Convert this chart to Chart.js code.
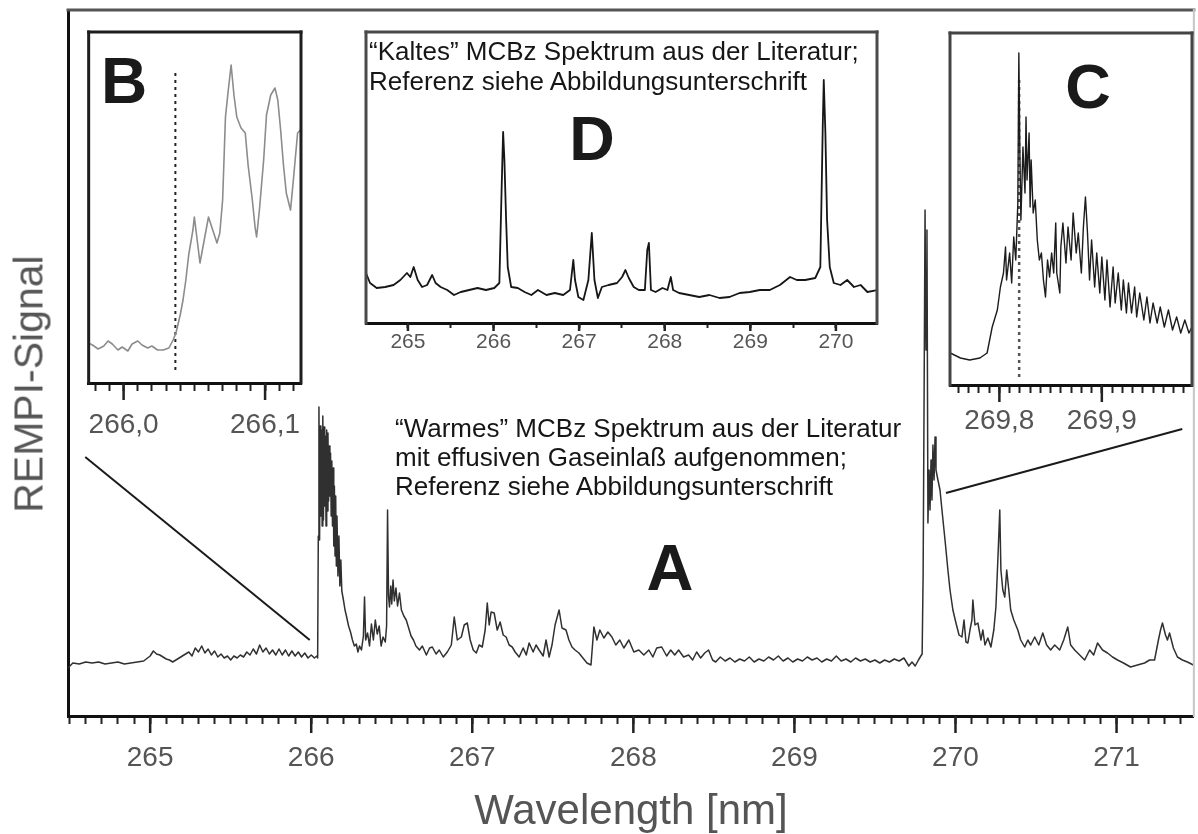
<!DOCTYPE html>
<html lang="de">
<head>
<meta charset="utf-8">
<title>REMPI-Spektrum MCBz</title>
<script src="https://cdn.jsdelivr.net/npm/chart.js@4.4.1/dist/chart.umd.min.js"></script>
<style>
  html, body { margin: 0; padding: 0; background: #fff; }
  #stage { position: relative; width: 1198px; height: 834px; overflow: hidden;
           font-family: "Liberation Sans", Arial, Helvetica, sans-serif; }
  #stage canvas { position: absolute; }
  .note { position: absolute; font-size: 26px; line-height: 29px; color: #161616; white-space: nowrap; }
  .tag  { position: absolute; font-weight: bold; line-height: 1; color: #1a1a1a; text-align: center; width: 100px; }
  #ytitle { position: absolute; left: 29px; top: 384px; font-size: 41px; line-height: 1; color: #555;
            white-space: nowrap; transform: translate(-50%, -50%) rotate(-90deg); }
</style>
</head>
<body>
<div id="stage">
  <canvas id="chartA" width="1198" height="834" style="left:0;top:0"></canvas>
  <canvas id="chartD" width="530" height="340" style="left:356px;top:27px"></canvas>
  <canvas id="chartB" width="235" height="420" style="left:78px;top:27px"></canvas>
  <canvas id="chartC" width="258" height="420" style="left:940px;top:28px"></canvas>

  <div id="ytitle">REMPI-Signal</div>

  <div class="tag" style="left:74px;top:49px;font-size:64px">B</div>
  <div class="tag" style="left:1038px;top:55px;font-size:63px">C</div>
  <div class="tag" style="left:542px;top:107px;font-size:63px">D</div>
  <div class="tag" style="left:620px;top:535px;font-size:65px">A</div>

  <div class="note" style="left:369px;top:36px;line-height:30px">“Kaltes” MCBz Spektrum aus der Literatur;<br>Referenz siehe Abbildungsunterschrift</div>
  <div class="note" style="left:395px;top:414px">“Warmes” MCBz Spektrum aus der Literatur<br>mit effusiven Gaseinlaß aufgenommen;<br>Referenz siehe Abbildungsunterschrift</div>
</div>

<script>
'use strict';

/* ──────────────────────────────────────────
   Data  (wavelength nm, REMPI signal a.u.)
   ────────────────────────────────────────── */

// A: "warm" spectrum, effusive inlet
const spectrumA = [
  [264.49,48],[264.52,53],[264.56,52],[264.60,54],[264.64,53],[264.68,54],[264.72,52],[264.76,53],
  [264.80,54],[264.84,52],[264.88,53],[264.92,54],[264.96,55],[265.00,60],[265.02,65],[265.04,62],
  [265.06,61],[265.08,59],[265.10,57],[265.12,56],[265.14,54],[265.16,56],[265.18,58],[265.20,60],
  [265.22,62],[265.24,64],[265.26,60],[265.28,68],[265.30,64],[265.32,70],[265.34,63],[265.36,67],
  [265.38,61],[265.40,65],[265.42,59],[265.44,62],[265.46,58],[265.48,60],[265.50,56],[265.52,60],
  [265.54,58],[265.56,61],[265.58,59],[265.60,64],[265.62,61],[265.64,67],[265.66,62],[265.68,71],
  [265.70,64],[265.72,68],[265.74,62],[265.76,66],[265.78,61],[265.80,67],[265.82,61],[265.84,66],
  [265.86,60],[265.88,65],[265.90,60],[265.92,64],[265.94,59],[265.96,63],[265.98,58],[266.00,61],
  [266.02,58],[266.035,60],
  [266.040,58],[266.044,180],[266.048,309],[266.052,176],[266.056,290],[266.060,200],[266.064,286],
  [266.068,190],[266.072,300],[266.076,196],[266.080,289],[266.084,210],[266.088,280],[266.092,190],
  [266.096,286],[266.100,205],[266.104,283],[266.108,215],[266.112,270],[266.116,220],[266.120,263],
  [266.124,200],[266.128,255],[266.132,190],[266.136,248],[266.140,170],[266.144,230],[266.148,160],
  [266.152,220],[266.156,150],[266.160,200],[266.166,140],[266.172,180],[266.178,130],[266.184,156],
  [266.190,125],[266.200,116],[266.210,106],[266.220,99],[266.232,90],[266.244,84],[266.256,76],
  [266.268,70],[266.280,72],[266.290,64],[266.300,70],[266.312,66],[266.324,80],[266.331,119],
  [266.338,76],[266.350,83],[266.362,70],[266.374,92],[266.386,76],[266.398,96],[266.410,82],
  [266.422,90],[266.434,70],[266.446,79],[266.460,74],[266.468,90],[266.474,206],[266.480,120],
  [266.486,109],[266.494,130],[266.500,112],[266.508,136],[266.516,115],[266.526,128],[266.536,110],
  [266.548,123],[266.560,106],[266.575,100],[266.590,96],[266.605,88],[266.620,80],[266.635,76],
  [266.650,70],[266.672,66],[266.690,70],[266.715,61],[266.735,68],[266.752,69],[266.775,62],
  [266.795,66],[266.820,59],[266.845,64],[266.870,71],[266.888,99],[266.907,76],[266.932,79],
  [266.950,91],[266.969,93],[266.987,76],[267.006,66],[267.025,63],[267.043,71],[267.062,69],
  [267.080,86],[267.093,113],[267.105,91],[267.117,104],[267.136,103],[267.155,86],[267.173,94],
  [267.192,81],[267.210,79],[267.229,71],[267.248,69],[267.266,64],[267.291,59],[267.316,68],
  [267.335,61],[267.353,73],[267.378,64],[267.396,71],[267.415,66],[267.440,60],[267.458,76],
  [267.477,59],[267.495,71],[267.514,91],[267.539,106],[267.557,88],[267.582,86],[267.600,76],
  [267.619,69],[267.638,66],[267.662,63],[267.687,58],[267.712,53],[267.737,51],[267.755,89],
  [267.774,76],[267.792,86],[267.817,78],[267.842,84],[267.867,79],[267.891,71],[267.916,76],
  [267.941,68],[267.972,76],[268.003,64],[268.034,66],[268.065,61],[268.096,66],[268.121,59],
  [268.145,68],[268.176,69],[268.207,60],[268.232,66],[268.257,61],[268.281,66],[268.312,59],
  [268.343,61],[268.368,56],[268.393,64],[268.418,58],[268.443,63],[268.467,66],[268.492,56],
  [268.511,54],
  [268.54,59],[268.57,55],[268.60,58],[268.63,54],[268.66,57],[268.69,55],[268.72,59],[268.75,54],
  [268.78,57],[268.81,55],[268.84,59],[268.87,56],[268.90,60],[268.93,55],[268.96,58],[268.99,54],
  [269.02,57],[269.05,55],[269.08,59],[269.11,56],[269.14,58],[269.17,54],[269.20,57],[269.23,55],
  [269.26,60],[269.29,55],[269.32,57],[269.35,54],[269.38,58],[269.41,55],[269.44,57],[269.47,54],
  [269.50,56],[269.53,53],[269.56,56],[269.59,54],[269.62,57],[269.65,55],[269.68,58],[269.71,50],
  [269.73,54],[269.75,50],[269.77,56],[269.785,60],[269.793,62],
  [269.799,140],[269.805,316],[269.811,506],[269.817,366],[269.823,486],[269.829,193],[269.836,246],
  [269.842,206],[269.848,256],[269.854,216],[269.860,271],[269.867,236],[269.873,279],[269.879,246],
  [269.891,236],[269.904,226],[269.916,206],[269.935,176],[269.953,146],[269.966,126],[269.984,106],
  [270.003,93],[270.022,81],[270.040,79],[270.053,96],[270.065,74],[270.077,73],[270.090,86],
  [270.102,96],[270.108,116],[270.121,91],[270.139,93],[270.158,76],[270.170,86],[270.183,71],
  [270.201,78],[270.220,69],[270.238,86],[270.251,109],[270.263,156],[270.275,206],[270.282,146],
  [270.294,126],[270.306,119],[270.318,146],[270.331,126],[270.343,106],[270.362,96],[270.387,86],
  [270.405,76],[270.430,69],[270.449,76],[270.467,71],[270.492,79],[270.517,71],[270.542,83],
  [270.566,71],[270.591,66],[270.616,71],[270.647,66],[270.672,76],[270.697,89],[270.715,71],
  [270.740,66],[270.771,61],[270.802,56],[270.833,66],[270.858,61],[270.882,73],[270.913,66],
  [270.944,63],[270.975,59],[271.006,56],[271.043,53],[271.087,49],[271.130,51],[271.174,53],
  [271.205,56],[271.236,56],[271.260,76],[271.273,86],[271.285,93],[271.304,81],[271.316,76],
  [271.329,83],[271.353,68],[271.378,59],[271.409,56],[271.440,54],[271.477,51]
];

// B: zoom on the 266.04 nm band head
const spectrumB = [
  [265.975,40],[265.978,38],[265.982,34],[265.986,37],[265.989,42],[265.992,39],[265.996,33],
  [265.999,36],[266.003,32],[266.006,39],[266.010,42],[266.013,38],[266.017,35],[266.020,37],
  [266.024,33],[266.028,33],[266.032,35],[266.035,43],[266.037,50],[266.040,68],[266.042,83],
  [266.044,103],[266.046,128],[266.049,153],[266.050,166],[266.052,143],[266.054,120],[266.057,143],
  [266.060,166],[266.063,153],[266.066,140],[266.068,150],[266.070,183],[266.072,266],[266.074,293],
  [266.076,318],[266.078,288],[266.080,266],[266.083,255],[266.086,250],[266.088,218],[266.091,183],
  [266.093,155],[266.094,146],[266.096,173],[266.099,223],[266.101,268],[266.104,288],[266.107,295],
  [266.109,283],[266.111,253],[266.113,218],[266.115,190],[266.118,173],[266.120,203],[266.123,250],
  [266.125,253]
];

// C: zoom on the 269.8 nm band head
const spectrumC = [
  [269.752,32],[269.762,27],[269.771,25],[269.781,27],[269.788,32],[269.793,58],[269.798,75],
  [269.801,98],[269.804,112],[269.806,138],[269.807,105],[269.810,132],[269.812,102],[269.814,148],
  [269.816,125],[269.818,182],[269.819,332],[269.820,232],[269.821,165],[269.823,238],[269.825,192],
  [269.826,268],[269.827,205],[269.829,252],[269.830,178],[269.831,225],[269.833,172],[269.835,185],
  [269.837,145],[269.839,125],[269.841,132],[269.843,105],[269.845,88],[269.847,125],[269.849,108],
  [269.851,132],[269.853,112],[269.855,162],[269.856,112],[269.859,92],[269.860,138],[269.862,162],
  [269.865,122],[269.867,158],[269.870,125],[269.872,172],[269.875,132],[269.877,152],[269.880,112],
  [269.882,158],[269.884,188],[269.886,152],[269.888,105],[269.890,145],[269.893,98],[269.895,132],
  [269.898,92],[269.900,128],[269.903,85],[269.905,125],[269.908,78],[269.911,118],[269.913,82],
  [269.916,112],[269.919,75],[269.921,105],[269.924,72],[269.926,102],[269.929,72],[269.932,98],
  [269.934,68],[269.937,92],[269.941,65],[269.944,88],[269.947,62],[269.950,82],[269.954,62],
  [269.957,78],[269.961,58],[269.965,75],[269.969,55],[269.973,68],[269.977,52],[269.981,65],
  [269.985,52],[269.988,58]
];

// D: "cold" spectrum from the literature
const spectrumD = [
  [264.51,50],[264.557,40],[264.635,35],[264.734,36],[264.832,38],[264.911,43],[264.988,50],
  [265.028,46],[265.067,56],[265.114,43],[265.165,36],[265.224,38],[265.283,48],[265.323,40],
  [265.382,36],[265.459,33],[265.538,28],[265.617,31],[265.715,33],[265.813,35],[265.911,33],
  [266.009,35],[266.068,40],[266.095,136],[266.112,191],[266.127,163],[266.147,103],[266.166,56],
  [266.206,36],[266.284,35],[266.363,31],[266.442,28],[266.519,33],[266.618,28],[266.716,30],
  [266.814,28],[266.893,33],[266.932,63],[266.952,43],[266.991,26],[267.050,23],[267.108,43],
  [267.148,90],[267.179,43],[267.219,25],[267.266,36],[267.344,38],[267.443,40],[267.502,46],
  [267.541,53],[267.580,45],[267.638,36],[267.697,33],[267.768,33],[267.796,73],[267.815,80],
  [267.839,33],[267.894,31],[267.973,35],[268.032,33],[268.071,46],[268.098,33],[268.168,30],
  [268.286,28],[268.404,26],[268.522,28],[268.640,25],[268.757,26],[268.875,30],[268.993,31],
  [269.111,33],[269.228,33],[269.346,38],[269.464,46],[269.543,43],[269.641,43],[269.759,45],
  [269.818,56],[269.846,196],[269.858,243],[269.877,190],[269.897,103],[269.928,56],[269.975,40],
  [270.053,38],[270.132,43],[270.211,36],[270.289,38],[270.368,31],[270.486,33]
];

// dotted onset markers in B and C  [wavelength, from, to]
const onsetB = [266.0366, 13, 311];
const onsetC = [269.8193, 8, 308];

// connector lines from A to the insets  [[x1,y1],[x2,y2]] in A's data units
const connectorB = [[265.991, 76], [264.597, 259]];
const connectorC = [[269.941, 223], [271.408, 287]];

// axis windows  [min, max, minor step, major step]
const axisA = [264.49, 271.48, 0.1, 1];
const axisB = [265.9753, 266.1254, 0.01, 0.1];
const axisC = [269.7518, 269.988, 0.01, 0.1];
const axisD = [264.51, 270.48, 0.5, 1];

/* ──────────────────────────────────────────
   Helpers
   ────────────────────────────────────────── */
const FONT = '"Liberation Sans", Arial, Helvetica, sans-serif';
const pts = arr => arr.map(p => ({ x: p[0], y: p[1] }));
const isMult = (v, m) => { const r = v / m; return Math.abs(r - Math.round(r)) < 1e-6; };

function tickGrid(min, max, step) {
  const out = [];
  for (let k = Math.ceil(min / step - 1e-9); k * step <= max + 1e-9; k++) {
    out.push({ value: +(k * step).toFixed(4) });
  }
  return out;
}

/* frame around the plot area + white backdrop */
const framePlugin = {
  id: 'frame',
  beforeDraw(chart, args, o) {
    const { ctx, chartArea: a } = chart;
    if (!o.fill) return;
    ctx.save();
    ctx.fillStyle = o.fill;
    ctx.fillRect(a.left, a.top, a.right - a.left, a.bottom - a.top);
    ctx.restore();
  },
  afterDraw(chart, args, o) {
    const { ctx, chartArea: a } = chart;
    const seg = (s, x1, y1, x2, y2) => {
      if (!s) return;
      ctx.strokeStyle = s[0]; ctx.lineWidth = s[1];
      ctx.beginPath(); ctx.moveTo(x1, y1); ctx.lineTo(x2, y2); ctx.stroke();
    };
    ctx.save();
    ctx.lineCap = 'square';
    seg(o.top, a.left, a.top, a.right, a.top);
    seg(o.left, a.left, a.top, a.left, a.bottom);
    seg(o.right, a.right, a.top, a.right, a.bottom);
    ctx.restore();
  }
};

/* longer tick marks for the labelled (major) ticks */
const majorTickPlugin = {
  id: 'majorTicks',
  afterDraw(chart, args, o) {
    const s = chart.scales.x, ctx = chart.ctx;
    ctx.save();
    ctx.strokeStyle = o.color; ctx.lineWidth = o.width;
    s.ticks.forEach(t => {
      if (!isMult(t.value, o.every)) return;
      const px = s.getPixelForValue(t.value);
      ctx.beginPath(); ctx.moveTo(px, s.top); ctx.lineTo(px, s.top + o.length); ctx.stroke();
    });
    ctx.restore();
  }
};

function xAxis(win, opt) {
  const [min, max, step, major] = win;
  return {
    type: 'linear', position: 'bottom', min, max, bounds: 'data',
    afterBuildTicks: s => { s.ticks = tickGrid(min, max, step); },
    afterFit: s => { s.height = opt.height; },
    ticks: {
      autoSkip: false, maxRotation: 0, minRotation: 0,
      padding: opt.pad, color: '#555',
      font: { family: FONT, size: opt.font },
      callback: v => isMult(v, major) ? opt.fmt(v) : ''
    },
    grid: { display: true, drawOnChartArea: false, drawTicks: true,
            tickLength: opt.minor, tickWidth: 2, tickColor: '#222' },
    border: { display: true, color: '#111', width: 3 }
  };
}

function baseOptions(padding) {
  return {
    responsive: false, animation: false, devicePixelRatio: 1, events: [],
    layout: { padding },
    elements: { point: { radius: 0 }, line: { tension: 0, borderJoinStyle: 'round' } },
    plugins: { legend: { display: false }, tooltip: { enabled: false } }
  };
}

const fmtInt = v => String(Math.round(v));
const fmtComma = v => v.toFixed(1).replace('.', ',');

/* ──────────────────────────────────────────
   Main spectrum A
   ────────────────────────────────────────── */
const optA = baseOptions({ left: 0, right: 2, top: 10, bottom: 0 });
optA.scales = {
  x: Object.assign(xAxis(axisA, { height: 118, pad: 17, font: 28, minor: 8, fmt: fmtInt }), {
    title: { display: true, text: 'Wavelength [nm]', color: '#555',
             font: { family: FONT, size: 42, lineHeight: 1 }, padding: { top: 0, bottom: 1 } }
  }),
  y: { min: 0, max: 706, display: true,
       ticks: { display: false },
       grid: { display: false, drawTicks: false },
       border: { display: true, color: '#111', width: 3 },
       afterFit: s => { s.width = 68; } }
};
optA.plugins.frame = { top: ['#555', 3], right: ['#c6c6c6', 2] };
optA.plugins.majorTicks = { every: 1, length: 17, width: 2.5, color: '#222' };

new Chart(document.getElementById('chartA'), {
  type: 'line',
  data: { datasets: [
    { data: pts(spectrumA), borderColor: '#303030', borderWidth: 1.5 },
    { data: pts(connectorB), borderColor: '#1a1a1a', borderWidth: 2 },
    { data: pts(connectorC), borderColor: '#1a1a1a', borderWidth: 2 }
  ] },
  options: optA,
  plugins: [framePlugin, majorTickPlugin]
});

/* ──────────────────────────────────────────
   Inset B
   ────────────────────────────────────────── */
const optB = baseOptions({ left: 10, right: 12, top: 5, bottom: 0 });
optB.scales = {
  x: xAxis(axisB, { height: 64, pad: 17, font: 28, minor: 8, fmt: fmtComma }),
  y: { min: 0, max: 351, display: false }
};
optB.plugins.frame = { fill: '#fff', top: ['#1e1e1e', 3], left: ['#1e1e1e', 3], right: ['#1e1e1e', 3] };
optB.plugins.majorTicks = { every: 0.1, length: 17, width: 2.5, color: '#222' };

new Chart(document.getElementById('chartB'), {
  type: 'line',
  data: { datasets: [
    { data: pts(spectrumB), borderColor: '#8c8c8c', borderWidth: 1.6 },
    { data: [{ x: onsetB[0], y: onsetB[1] }, { x: onsetB[0], y: onsetB[2] }],
      borderColor: '#222', borderWidth: 2, borderDash: [3, 4] }
  ] },
  options: optB,
  plugins: [framePlugin, majorTickPlugin]
});

/* ──────────────────────────────────────────
   Inset C
   ────────────────────────────────────────── */
const optC = baseOptions({ left: 10, right: 6, top: 5, bottom: 0 });
optC.scales = {
  x: xAxis(axisC, { height: 63, pad: 11, font: 28, minor: 8, fmt: fmtComma }),
  y: { min: 0, max: 352, display: false }
};
optC.plugins.frame = { fill: '#fff', top: ['#444', 3], left: ['#444', 3], right: ['#444', 3] };
optC.plugins.majorTicks = { every: 0.1, length: 17, width: 2.5, color: '#222' };

new Chart(document.getElementById('chartC'), {
  type: 'line',
  data: { datasets: [
    { data: pts(spectrumC), borderColor: '#1c1c1c', borderWidth: 1.4 },
    { data: [{ x: onsetC[0], y: onsetC[1] }, { x: onsetC[0], y: onsetC[2] }],
      borderColor: '#555', borderWidth: 2.5, borderDash: [3, 4] }
  ] },
  options: optC,
  plugins: [framePlugin, majorTickPlugin]
});

/* ──────────────────────────────────────────
   Inset D
   ────────────────────────────────────────── */
const optD = baseOptions({ left: 10, right: 9, top: 5, bottom: 0 });
optD.scales = {
  x: xAxis(axisD, { height: 44, pad: 2, font: 21, minor: 5, fmt: fmtInt }),
  y: { min: 0, max: 291, display: false }
};
optD.plugins.frame = { fill: '#fff', top: ['#4a4a4a', 3], left: ['#4a4a4a', 3], right: ['#4a4a4a', 3] };
optD.plugins.majorTicks = { every: 1, length: 8, width: 2.5, color: '#222' };

new Chart(document.getElementById('chartD'), {
  type: 'line',
  data: { datasets: [
    { data: pts(spectrumD), borderColor: '#161616', borderWidth: 1.8 }
  ] },
  options: optD,
  plugins: [framePlugin, majorTickPlugin]
});
</script>
</body>
</html>
